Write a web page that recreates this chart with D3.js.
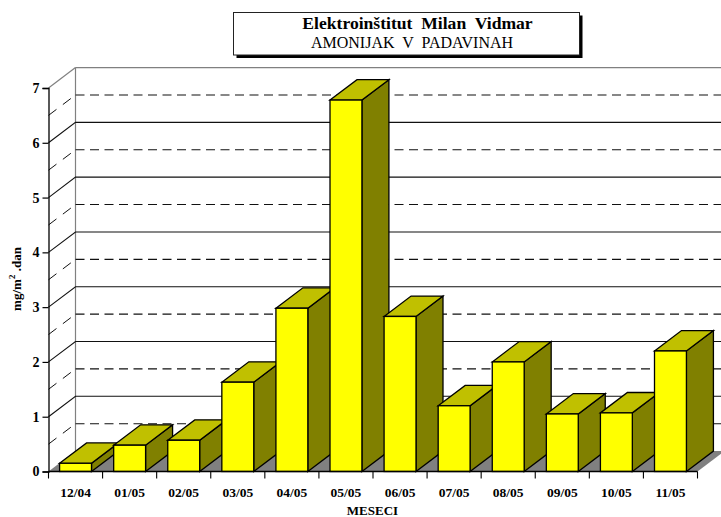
<!DOCTYPE html>
<html><head><meta charset="utf-8">
<script src="https://d3js.org/d3.v7.min.js"></script>
<style>html,body{margin:0;background:#fff}svg{display:block}text{font-family:"Liberation Serif",serif;white-space:pre}</style>
</head><body><div id="c"></div>
<script>
const categories=["12/04","01/05","02/05","03/05","04/05","05/05","06/05","07/05","08/05","09/05","10/05","11/05"];
const values=[0.15,0.48,0.57,1.63,2.98,6.78,2.83,1.2,2.0,1.05,1.07,2.2];
const yTicks=[0,1,2,3,4,5,6,7];
const halfTicks=[0.5,1.5,2.5,3.5,4.5,5.5,6.5];
const titleLine="Elektroinštitut  Milan  Vidmar";
const subtitleLine="AMONIJAK  V  PADAVINAH";
const xTitle="MESECI";

const W=721,H=517,dx=27,dy=-20.4;
const svg=d3.select("#c").append("svg").attr("width",W).attr("height",H);
const x=d3.scaleBand().domain(categories).range([48.5,697.5]).paddingInner(.41).paddingOuter(.205);
const y=d3.scaleLinear().domain([0,7]).range([471.5,88]);
const step=x.step(),bw=x.bandwidth(),x0=48.5,x1=697.5;
const pts=a=>a.map(p=>p.join(",")).join(" ");

// back wall left edge and top edge
svg.append("line").attr("x1",x0+dx).attr("x2",x0+dx).attr("y1",y(0)+dy).attr("y2",y(7)+dy).attr("stroke","#808080").attr("stroke-width",1.2);
svg.append("line").attr("x1",x0).attr("y1",y(7)).attr("x2",x0+dx).attr("y2",y(7)+dy).attr("stroke","#808080").attr("stroke-width",1.2);
svg.append("line").attr("x1",x0+dx).attr("x2",W+5).attr("y1",y(7)+dy).attr("y2",y(7)+dy).attr("stroke","#808080").attr("stroke-width",1.4);

// floor
svg.append("polygon").attr("points",pts([[x0,y(0)],[x0+dx,y(0)+dy],[x1+dx,y(0)+dy],[x1,y(0)]])).attr("fill","#808080");

// gridlines
const grid=svg.append("g").attr("fill","none").attr("stroke","#111");
yTicks.filter(v=>v>0&&v<7).forEach(v=>{
  grid.append("polyline").attr("points",pts([[x0,y(v)],[x0+dx,y(v)+dy],[W+5,y(v)+dy]])).attr("stroke-width",1.1);
});
halfTicks.forEach(v=>{
  grid.append("line").attr("x1",x0).attr("y1",y(v)).attr("x2",x0+dx).attr("y2",y(v)+dy).attr("stroke-dasharray","10 8").attr("stroke-width",1);
  grid.append("line").attr("x1",x0+dx).attr("x2",W+5).attr("y1",y(v)+dy).attr("y2",y(v)+dy).attr("stroke-dasharray","9 5.5").attr("stroke-width",1.1);
});

// bars
const bars=svg.append("g").attr("stroke","#000").attr("stroke-width",1.3).attr("stroke-linejoin","miter");
categories.forEach((c,i)=>{
  const l=x(c),r=l+bw,t=y(values[i]),b=y(0);
  bars.append("polygon").attr("points",pts([[r,b],[r+dx,b+dy],[r+dx,t+dy],[r,t]])).attr("fill","#808000");
  bars.append("polygon").attr("points",pts([[l,t],[l+dx,t+dy],[r+dx,t+dy],[r,t]])).attr("fill","#c0c000");
  bars.append("rect").attr("x",l).attr("y",t).attr("width",bw).attr("height",b-t).attr("fill","#ffff00");
});

// axes
const yAxis=d3.axisLeft(y).tickValues(yTicks).tickFormat(d3.format("d")).tickSize(6).tickPadding(3);
const gy=svg.append("g").attr("transform",`translate(${x0},0)`).call(yAxis);
gy.selectAll("path").attr("stroke","#000").attr("stroke-width",1.3);
gy.selectAll("line").attr("stroke","#000").attr("stroke-width",1.2);
gy.selectAll("text").attr("font-size",14).attr("font-weight","bold").attr("font-family","Liberation Serif").attr("fill","#000");

const xAxis=d3.axisBottom(x).tickSize(0).tickPadding(16);
const gx=svg.append("g").attr("transform",`translate(0,${y(0)})`).call(xAxis);
gx.select("path").remove();
gx.selectAll("text").attr("font-size",13.5).attr("font-weight","bold").attr("font-family","Liberation Serif").attr("fill","#000");
svg.append("line").attr("x1",x0).attr("x2",x1).attr("y1",y(0)).attr("y2",y(0)).attr("stroke","#000").attr("stroke-width",1.3);
svg.append("g").selectAll("line").data(d3.range(categories.length+1)).join("line")
  .attr("x1",i=>x0+i*step).attr("x2",i=>x0+i*step).attr("y1",y(0)).attr("y2",y(0)+7).attr("stroke","#000").attr("stroke-width",1.1);

// axis titles
svg.append("text").attr("x",372.5).attr("y",515).attr("text-anchor","middle").attr("font-size",13).attr("font-weight","bold").text(xTitle);
const yt=svg.append("text").attr("transform","translate(21,279) rotate(-90)").attr("text-anchor","middle").attr("font-size",13).attr("font-weight","bold");
yt.append("tspan").text("mg/m");
yt.append("tspan").attr("font-size",9).attr("dy",-6).text("2");
yt.append("tspan").attr("dy",6).text(" .dan");

// title box
svg.append("rect").attr("x",236.5).attr("y",15.5).attr("width",346).attr("height",42.5).attr("fill","#000");
svg.append("rect").attr("x",233.5).attr("y",12.5).attr("width",346).attr("height",42.5).attr("fill","#fff").attr("stroke","#222").attr("stroke-width",1);
svg.append("text").attr("x",417.5).attr("y",29).attr("text-anchor","middle").attr("font-size",17.6).attr("font-weight","bold").text(titleLine);
svg.append("text").attr("x",412).attr("y",48).attr("text-anchor","middle").attr("font-size",16).text(subtitleLine);
</script></body></html>
